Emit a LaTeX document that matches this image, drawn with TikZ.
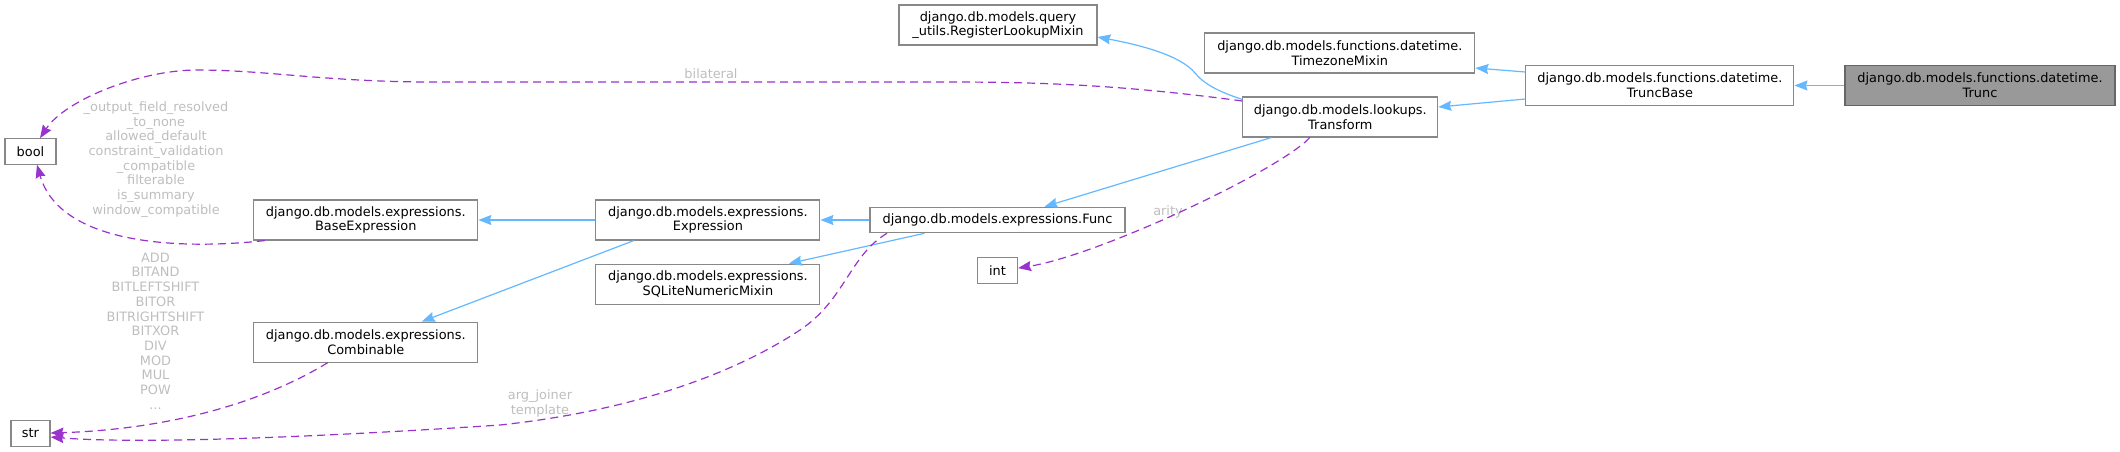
\documentclass[tikz,border=0pt]{standalone}
\usepackage{fontspec}
\setmainfont{DejaVu Sans}
\usetikzlibrary{arrows.meta,positioning}
\definecolor{edgeblue}{HTML}{63B8FF}
\definecolor{edgepurple}{HTML}{9A32CD}
\definecolor{lblgrey}{HTML}{BEBEBE}
\definecolor{boxgrey}{HTML}{888888}
\definecolor{rootgrey}{HTML}{999999}
\definecolor{rootedge}{HTML}{666666}

\begin{document}
\begin{tikzpicture}[
  x=1pt,y=-1pt,
  font=\fontsize{12.9}{14.7}\selectfont,
  node distance=50pt and 50pt,
  cls/.style={draw=boxgrey,line width=1.1pt,fill=white,align=center,inner sep=0pt,minimum height=40pt},
  root/.style={cls,fill=rootgrey,draw=rootedge},
  one/.style={minimum height=25.5pt},
  inh/.style={-{Stealth[length=13pt,width=10pt,inset=1.5pt]},draw=edgeblue,line width=1.2pt},
  usg/.style={-{Stealth[length=13pt,width=10pt,inset=1.5pt]},draw=edgepurple,line width=1.2pt,dash pattern=on 8pt off 5pt},
  lbl/.style={text=lblgrey,align=center,inner sep=0pt}
]
\useasboundingbox (0,0) rectangle (2120,451);
\node[root,minimum width=270pt] (trunc) at (1980,85.5) {django.db.models.functions.datetime.\\Trunc};
\node[cls,minimum width=268pt,left=50pt of trunc] (truncbase) {django.db.models.functions.datetime.\\TruncBase};
\node[cls,minimum width=270pt,left=50pt of truncbase.west,yshift=32.5pt] (tzmixin) {django.db.models.functions.datetime.\\TimezoneMixin};
\node[cls,minimum width=195pt,left=87pt of truncbase.west,yshift=-31.5pt] (transform) {django.db.models.lookups.\\Transform};
\node[cls,minimum width=198pt] (reglookup) at (998,25) {django.db.models.query\\\_utils.RegisterLookupMixin};
\node[cls,one,minimum width=255pt] (func) at (997.5,220) {django.db.models.expressions.Func};
\node[cls,one,minimum width=40pt,below=24pt of func] (intnode) {int};
\node[cls,minimum width=224pt,left=49pt of func] (expression) {django.db.models.expressions.\\Expression};
\node[cls,minimum width=224pt,below=23pt of expression] (sqlite) {django.db.models.expressions.\\SQLiteNumericMixin};
\node[cls,minimum width=224pt,left=117pt of expression] (baseexpr) {django.db.models.expressions.\\BaseExpression};
\node[cls,minimum width=224pt,below=81pt of baseexpr] (combinable) {django.db.models.expressions.\\Combinable};
\node[cls,one,minimum width=51pt] (bool) at (30.5,151.5) {bool};
\node[cls,one,minimum width=39pt] (str) at (30.5,433.5) {str};

\node[lbl] (lblbilat) at (711,74) {bilateral};
\node[lbl] (lblarity) at (1168,212) {arity};
\node[lbl] (lblbool) at (156,159.5) {\_output\_field\_resolved\\\_to\_none\\allowed\_default\\constraint\_validation\\\_compatible\\filterable\\is\_summary\\window\_compatible};
\node[lbl] (lblstr) at (155.5,331) {ADD\\BITAND\\BITLEFTSHIFT\\BITOR\\BITRIGHTSHIFT\\BITXOR\\DIV\\MOD\\MUL\\POW\\...};
\node[lbl] (lblfunc) at (540,403.5) {arg\_joiner\\template};

\draw[inh] (trunc) -- (truncbase);
\draw[inh] ([yshift=13.5pt]truncbase.west) -- ([yshift=-15pt]tzmixin.east);
\draw[inh] ([yshift=-13.5pt]truncbase.west) -- ([yshift=10pt]transform.east);
\draw[inh] ([yshift=-3pt]transform.north west) .. controls (1220,92) and (1205,85) .. (1195,73) .. controls (1180,55) and (1140,45) .. ([yshift=-12pt]reglookup.east);
\draw[inh] ([xshift=-69pt]transform.south) -- ([xshift=47pt]func.north);
\draw[inh] (func) -- (expression);
\draw[inh] ([xshift=-73pt]func.south) -- ([xshift=81pt]sqlite.north);
\draw[inh] (expression) -- (baseexpr);
\draw[inh] ([xshift=-74pt]expression.south) -- ([xshift=56pt]combinable.north);
\draw[usg] ([yshift=16pt]transform.west) .. controls (1130,86) and (1050,82) .. (950,82) -- (450,82) .. controls (330,83) and (270,70) .. (197,70) .. controls (140,70) and (65,100) .. ([xshift=9.5pt]bool.north);
\draw[usg] ([xshift=-30.5pt]transform.south) .. controls (1280,170) and (1100,255) .. ([yshift=2.5pt]intnode.east);
\draw[usg] ([xshift=-101pt]baseexpr.south) .. controls (180,250) and (60,245) .. ([xshift=6.5pt]bool.south);
\draw[usg] ([xshift=-38pt]combinable.south) .. controls (250,410) and (150,430) .. ([yshift=0.5pt]str.east);
\draw[usg] ([xshift=-110.5pt]func.south) .. controls (850,255) and (845,300) .. (800,330) .. controls (740,370) and (640,410) .. (500,425) .. controls (350,435) and (150,445) .. ([yshift=-3.5pt]str.east);
\end{tikzpicture}
\end{document}
